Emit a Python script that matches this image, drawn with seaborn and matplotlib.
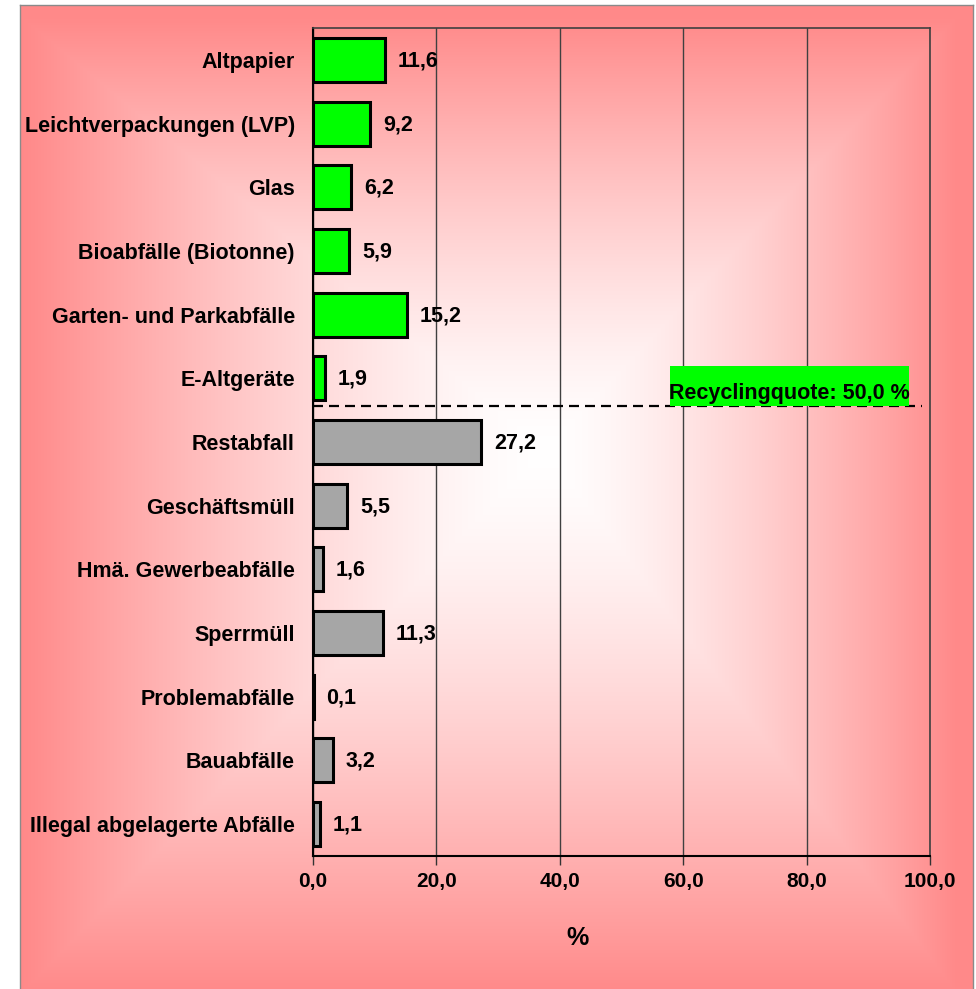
import numpy as np
import pandas as pd
import matplotlib
matplotlib.use("Agg")
import matplotlib.pyplot as plt
from matplotlib.patches import Rectangle
import seaborn as sns

# Waste fractions (share in %), top to bottom
categories = [
    "Altpapier",
    "Leichtverpackungen (LVP)",
    "Glas",
    "Bioabfälle (Biotonne)",
    "Garten- und Parkabfälle",
    "E-Altgeräte",
    "Restabfall",
    "Geschäftsmüll",
    "Hmä. Gewerbeabfälle",
    "Sperrmüll",
    "Problemabfälle",
    "Bauabfälle",
    "Illegal abgelagerte Abfälle",
]
shares = [11.6, 9.2, 6.2, 5.9, 15.2, 1.9, 27.2, 5.5, 1.6, 11.3, 0.1, 3.2, 1.1]
recycled = [True, True, True, True, True, True,
            False, False, False, False, False, False, False]
recycling_quote = 50.0
x_ticks = [0, 20, 40, 60, 80, 100]

GREEN = "#00FF00"
GREY = "#A6A6A6"
SALMON = np.array([255, 138, 138]) / 255.0

sns.set_style("white")
plt.rcParams["font.family"] = ["Liberation Sans", "DejaVu Sans"]
plt.rcParams["font.weight"] = "bold"
plt.rcParams["text.color"] = "black"
plt.rcParams["xtick.color"] = "black"
plt.rcParams["ytick.color"] = "black"
plt.rcParams["axes.labelcolor"] = "black"

W, H = 976, 989
fig = plt.figure(figsize=(W / 100, H / 100), dpi=100, facecolor="white")

# ---- chart-area background: rectangular "from centre" gradient ----
px0, px1, py0, py1 = 20, 973, 5, 989
bg = fig.add_axes([px0 / W, 0, (px1 - px0) / W, (H - py0) / H], zorder=-10)
xs = np.arange(px0, px1) + 0.5
ys = np.arange(py0, H) + 0.5
X, Y = np.meshgrid(xs, ys)
cx, cy = 545.0, 450.0
dx = np.where(X < cx, (cx - X) / 520.0, (X - cx) / 410.0)
dy = np.where(Y < cy, (cy - Y) / 430.0, (Y - cy) / 540.0)
t = np.clip(np.maximum(dx, dy), 0, 1) ** 1.4
t = t[..., None]
img = (1 - t) * np.ones(3) + t * SALMON
bg.imshow(img, aspect="auto", interpolation="bilinear")
bg.set_xticks([])
bg.set_yticks([])
for side in ["left", "top", "right"]:
    bg.spines[side].set_color("#8a8a8a")
    bg.spines[side].set_linewidth(1.0)
bg.spines["bottom"].set_visible(False)

# ---- bar chart ----
ax = fig.add_axes([313 / W, 1 - 856 / H, (930 - 313) / W, (856 - 28) / H])
ax.patch.set_alpha(0)

df = pd.DataFrame({"category": categories, "share": shares, "recycled": recycled})
palette = {c: (GREEN if r else GREY) for c, r in zip(categories, recycled)}
sns.barplot(data=df, x="share", y="category", hue="category", palette=palette,
            legend=False, orient="h", width=0.69, edgecolor="black",
            linewidth=2.2, saturation=1, ax=ax, zorder=3)

ax.set_xlim(0, 100)
ax.set_ylim(len(categories) - 0.5, -0.5)
ax.set_xticks(x_ticks)
ax.set_xticklabels([f"{v:.1f}".replace(".", ",") for v in x_ticks],
                   fontsize=15, fontweight="bold")
ax.set_yticks(range(len(categories)))
ax.set_yticklabels(categories, fontsize=15.5, fontweight="bold")
ax.set_yticks(np.arange(-0.5, len(categories)), minor=True)
ax.tick_params(axis="y", which="major", length=0, pad=13)
ax.tick_params(axis="y", which="minor", direction="in", length=4.5,
               width=1, color="#333333")
ax.tick_params(axis="x", direction="out", length=6.5, width=1,
               color="#333333", pad=5, bottom=True)
ax.set_ylabel("")
ax.set_xlabel("%", fontsize=18, fontweight="bold")
ax.xaxis.set_label_coords(0.428, -0.085)

ax.grid(axis="x", color="#404040", linewidth=1, zorder=0)
ax.grid(axis="y", visible=False)
ax.set_axisbelow(True)
for side in ["left", "bottom"]:
    ax.spines[side].set_color("black")
    ax.spines[side].set_linewidth(1.5)
for side in ["top", "right"]:
    ax.spines[side].set_color("#404040")
    ax.spines[side].set_linewidth(1.2)

# value labels next to each bar
for i, v in enumerate(shares):
    ax.annotate(f"{v:.1f}".replace(".", ","), xy=(v, i), xytext=(13, -1),
                textcoords="offset pixels", va="center", ha="left",
                fontsize=15.5, fontweight="bold", zorder=5)

# separator between recycled and residual fractions
sep_y = 5.44
ax.plot([0, 98.7], [sep_y, sep_y], color="black", linewidth=1.6,
        linestyle=(0, (4.5, 2.7)), zorder=4, solid_capstyle="butt")

# recycling quote label on green background
box_x0, box_x1 = 57.9, 96.6
box_y0 = 4.81
ax.add_patch(Rectangle((box_x0, box_y0), box_x1 - box_x0, sep_y - box_y0,
                       facecolor=GREEN, edgecolor="none", zorder=5))
ax.text((box_x0 + box_x1) / 2, 5.32,
        f"Recyclingquote: {recycling_quote:.1f} %".replace(".", ","),
        ha="center", va="baseline", fontsize=15.5, fontweight="bold", zorder=6)

fig.savefig("out.png", dpi=100, facecolor="white")
